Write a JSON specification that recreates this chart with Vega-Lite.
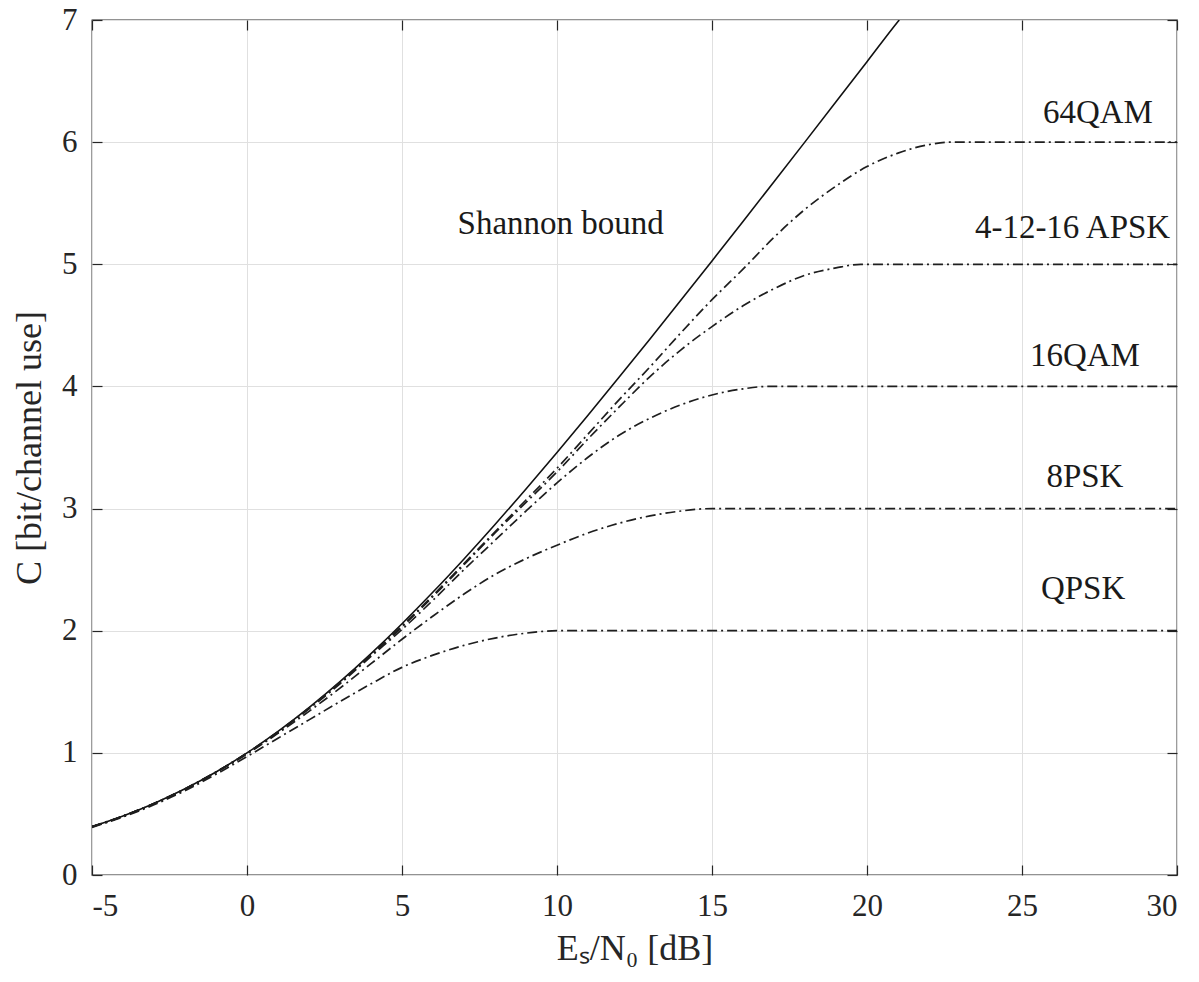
{
  "$schema": "https://vega.github.io/schema/vega-lite/v6.json",
  "width": 1085,
  "height": 855,
  "autosize": {"type": "none"},
  "padding": {"left": 92, "top": 20, "right": 22, "bottom": 107},
  "background": "white",
  "config": {
    "view": {"stroke": "#262626", "strokeWidth": 1.3},
    "font": "Liberation Serif",
    "axis": {
      "domain": false,
      "tickColor": "#262626",
      "tickWidth": 1.2,
      "tickSize": -10,
      "labelFont": "Liberation Serif",
      "labelFontSize": 31,
      "labelColor": "#262626",
      "labelExpr": "'' + datum.value",
      "titleFont": "Liberation Serif",
      "titleFontSize": 36,
      "titleFontWeight": "normal",
      "titleColor": "#262626",
      "gridColor": "#e0e0e0",
      "gridWidth": 1
    }
  },
  "datasets": {
    "shannon": [
      {"x": -5, "c": 0.3963}, {"x": -4, "c": 0.4835}, {"x": -3, "c": 0.5861}, {"x": -2, "c": 0.7058},
      {"x": -1, "c": 0.8435}, {"x": 0, "c": 1.0}, {"x": 1, "c": 1.1756}, {"x": 2, "c": 1.3701},
      {"x": 3, "c": 1.5827}, {"x": 4, "c": 1.8122}, {"x": 5, "c": 2.0574}, {"x": 6, "c": 2.3165},
      {"x": 7, "c": 2.5878}, {"x": 8, "c": 2.8698}, {"x": 9, "c": 3.1608}, {"x": 10, "c": 3.4594},
      {"x": 11, "c": 3.7644}, {"x": 12, "c": 4.0746}, {"x": 13, "c": 4.3891}, {"x": 14, "c": 4.707},
      {"x": 15, "c": 5.0278}, {"x": 16, "c": 5.3509}, {"x": 17, "c": 5.6758}, {"x": 18, "c": 6.0022},
      {"x": 19, "c": 6.3298}, {"x": 20, "c": 6.6582}, {"x": 21, "c": 6.9874}, {"x": 21.04, "c": 7.0}
    ],
    "mods": [
      {"m": "QPSK", "x": -5, "c": 0.39}, {"m": "QPSK", "x": -4, "c": 0.475}, {"m": "QPSK", "x": -3, "c": 0.575},
      {"m": "QPSK", "x": -2, "c": 0.69}, {"m": "QPSK", "x": -1, "c": 0.825}, {"m": "QPSK", "x": 0, "c": 0.97},
      {"m": "QPSK", "x": 1, "c": 1.12}, {"m": "QPSK", "x": 2, "c": 1.27}, {"m": "QPSK", "x": 3, "c": 1.42},
      {"m": "QPSK", "x": 4, "c": 1.565}, {"m": "QPSK", "x": 5, "c": 1.7}, {"m": "QPSK", "x": 6, "c": 1.8},
      {"m": "QPSK", "x": 7, "c": 1.88}, {"m": "QPSK", "x": 8, "c": 1.94}, {"m": "QPSK", "x": 9, "c": 1.98},
      {"m": "QPSK", "x": 10, "c": 2.0}, {"m": "QPSK", "x": 30, "c": 2.0},

      {"m": "8PSK", "x": -5, "c": 0.395}, {"m": "8PSK", "x": -4, "c": 0.48}, {"m": "8PSK", "x": -3, "c": 0.583},
      {"m": "8PSK", "x": -2, "c": 0.7}, {"m": "8PSK", "x": -1, "c": 0.84}, {"m": "8PSK", "x": 0, "c": 0.99},
      {"m": "8PSK", "x": 1, "c": 1.16}, {"m": "8PSK", "x": 2, "c": 1.34}, {"m": "8PSK", "x": 3, "c": 1.53},
      {"m": "8PSK", "x": 4, "c": 1.73}, {"m": "8PSK", "x": 5, "c": 1.93}, {"m": "8PSK", "x": 6, "c": 2.12},
      {"m": "8PSK", "x": 7, "c": 2.3}, {"m": "8PSK", "x": 8, "c": 2.46}, {"m": "8PSK", "x": 9, "c": 2.59},
      {"m": "8PSK", "x": 10, "c": 2.7}, {"m": "8PSK", "x": 11, "c": 2.8}, {"m": "8PSK", "x": 12, "c": 2.88},
      {"m": "8PSK", "x": 13, "c": 2.94}, {"m": "8PSK", "x": 14, "c": 2.98}, {"m": "8PSK", "x": 15, "c": 3.0},
      {"m": "8PSK", "x": 30, "c": 3.0},

      {"m": "16QAM", "x": -5, "c": 0.395}, {"m": "16QAM", "x": -4, "c": 0.482}, {"m": "16QAM", "x": -3, "c": 0.585},
      {"m": "16QAM", "x": -2, "c": 0.703}, {"m": "16QAM", "x": -1, "c": 0.842}, {"m": "16QAM", "x": 0, "c": 0.995},
      {"m": "16QAM", "x": 1, "c": 1.168}, {"m": "16QAM", "x": 2, "c": 1.36}, {"m": "16QAM", "x": 3, "c": 1.565},
      {"m": "16QAM", "x": 4, "c": 1.79}, {"m": "16QAM", "x": 5, "c": 2.01}, {"m": "16QAM", "x": 6, "c": 2.25},
      {"m": "16QAM", "x": 7, "c": 2.5}, {"m": "16QAM", "x": 8, "c": 2.74}, {"m": "16QAM", "x": 9, "c": 2.98},
      {"m": "16QAM", "x": 10, "c": 3.21}, {"m": "16QAM", "x": 11, "c": 3.42}, {"m": "16QAM", "x": 12, "c": 3.6},
      {"m": "16QAM", "x": 13, "c": 3.74}, {"m": "16QAM", "x": 14, "c": 3.85}, {"m": "16QAM", "x": 15, "c": 3.93},
      {"m": "16QAM", "x": 16, "c": 3.98}, {"m": "16QAM", "x": 16.8, "c": 4.0}, {"m": "16QAM", "x": 30, "c": 4.0},

      {"m": "APSK", "x": -5, "c": 0.396}, {"m": "APSK", "x": -4, "c": 0.483}, {"m": "APSK", "x": -3, "c": 0.586},
      {"m": "APSK", "x": -2, "c": 0.705}, {"m": "APSK", "x": -1, "c": 0.843}, {"m": "APSK", "x": 0, "c": 0.997},
      {"m": "APSK", "x": 1, "c": 1.171}, {"m": "APSK", "x": 2, "c": 1.365}, {"m": "APSK", "x": 3, "c": 1.575},
      {"m": "APSK", "x": 4, "c": 1.8}, {"m": "APSK", "x": 5, "c": 2.03}, {"m": "APSK", "x": 6, "c": 2.28},
      {"m": "APSK", "x": 7, "c": 2.54}, {"m": "APSK", "x": 8, "c": 2.8}, {"m": "APSK", "x": 9, "c": 3.05},
      {"m": "APSK", "x": 10, "c": 3.3}, {"m": "APSK", "x": 11, "c": 3.57}, {"m": "APSK", "x": 12, "c": 3.83},
      {"m": "APSK", "x": 13, "c": 4.08}, {"m": "APSK", "x": 14, "c": 4.3}, {"m": "APSK", "x": 15, "c": 4.49},
      {"m": "APSK", "x": 16, "c": 4.66}, {"m": "APSK", "x": 17, "c": 4.8}, {"m": "APSK", "x": 18, "c": 4.91},
      {"m": "APSK", "x": 19, "c": 4.97}, {"m": "APSK", "x": 19.8, "c": 5.0}, {"m": "APSK", "x": 30, "c": 5.0},

      {"m": "64QAM", "x": -5, "c": 0.396}, {"m": "64QAM", "x": -4, "c": 0.483}, {"m": "64QAM", "x": -3, "c": 0.586},
      {"m": "64QAM", "x": -2, "c": 0.705}, {"m": "64QAM", "x": -1, "c": 0.843}, {"m": "64QAM", "x": 0, "c": 0.998},
      {"m": "64QAM", "x": 1, "c": 1.172}, {"m": "64QAM", "x": 2, "c": 1.367}, {"m": "64QAM", "x": 3, "c": 1.578},
      {"m": "64QAM", "x": 4, "c": 1.805}, {"m": "64QAM", "x": 5, "c": 2.04}, {"m": "64QAM", "x": 6, "c": 2.29},
      {"m": "64QAM", "x": 7, "c": 2.55}, {"m": "64QAM", "x": 8, "c": 2.81}, {"m": "64QAM", "x": 9, "c": 3.07},
      {"m": "64QAM", "x": 10, "c": 3.33}, {"m": "64QAM", "x": 11, "c": 3.61}, {"m": "64QAM", "x": 12, "c": 3.89},
      {"m": "64QAM", "x": 13, "c": 4.16}, {"m": "64QAM", "x": 14, "c": 4.44}, {"m": "64QAM", "x": 15, "c": 4.71},
      {"m": "64QAM", "x": 16, "c": 4.96}, {"m": "64QAM", "x": 17, "c": 5.22}, {"m": "64QAM", "x": 18, "c": 5.45},
      {"m": "64QAM", "x": 19, "c": 5.64}, {"m": "64QAM", "x": 20, "c": 5.8}, {"m": "64QAM", "x": 21, "c": 5.91},
      {"m": "64QAM", "x": 22, "c": 5.98}, {"m": "64QAM", "x": 22.7, "c": 6.0}, {"m": "64QAM", "x": 30, "c": 6.0}
    ],
    "labels": [
      {"label": "Shannon bound", "x": 10.12, "c": 5.248},
      {"label": "64QAM", "x": 27.45, "c": 6.157},
      {"label": "4-12-16 APSK", "x": 26.63, "c": 5.215},
      {"label": "16QAM", "x": 27.03, "c": 4.17},
      {"label": "8PSK", "x": 27.03, "c": 3.18},
      {"label": "QPSK", "x": 26.97, "c": 2.26}
    ]
  },
  "layer": [
    {
      "data": {"name": "shannon"},
      "mark": {"type": "line", "color": "#111111", "strokeWidth": 1.6, "interpolate": "monotone", "clip": true},
      "encoding": {
        "x": {
          "field": "x", "type": "quantitative",
          "scale": {"domain": [-5, 30], "nice": false, "zero": false},
          "axis": {"values": [-5, 0, 5, 10, 15, 20, 25, 30], "grid": true, "title": "Eₛ/N₀ [dB]", "labelPadding": 26, "titlePadding": 10}
        },
        "y": {
          "field": "c", "type": "quantitative",
          "scale": {"domain": [0, 7], "nice": false},
          "axis": {"values": [0, 1, 2, 3, 4, 5, 6, 7], "grid": true, "title": "C [bit/channel use]", "labelPadding": 25, "titlePadding": 13}
        }
      }
    },
    {
      "data": {"name": "mods"},
      "mark": {"type": "line", "color": "#1e1e1e", "strokeWidth": 1.7, "strokeDash": [10, 4, 2, 4], "interpolate": "monotone", "clip": true},
      "encoding": {
        "x": {"field": "x", "type": "quantitative", "scale": {"domain": [-5, 30], "nice": false, "zero": false}, "axis": null},
        "y": {"field": "c", "type": "quantitative", "scale": {"domain": [0, 7], "nice": false}, "axis": null},
        "detail": {"field": "m", "type": "nominal"}
      }
    },
    {
      "data": {"name": "labels"},
      "mark": {"type": "text", "font": "Liberation Serif", "fontSize": 33, "align": "center", "baseline": "alphabetic", "color": "#1a1a1a"},
      "encoding": {
        "x": {
          "field": "x", "type": "quantitative",
          "scale": {"domain": [-5, 30], "nice": false, "zero": false},
          "axis": {"orient": "top", "values": [-5, 0, 5, 10, 15, 20, 25, 30], "labels": false, "grid": false, "title": null}
        },
        "y": {
          "field": "c", "type": "quantitative",
          "scale": {"domain": [0, 7], "nice": false},
          "axis": {"orient": "right", "values": [0, 1, 2, 3, 4, 5, 6, 7], "labels": false, "grid": false, "title": null}
        },
        "text": {"field": "label", "type": "nominal"}
      }
    }
  ],
  "resolve": {"axis": {"x": "independent", "y": "independent"}}
}
